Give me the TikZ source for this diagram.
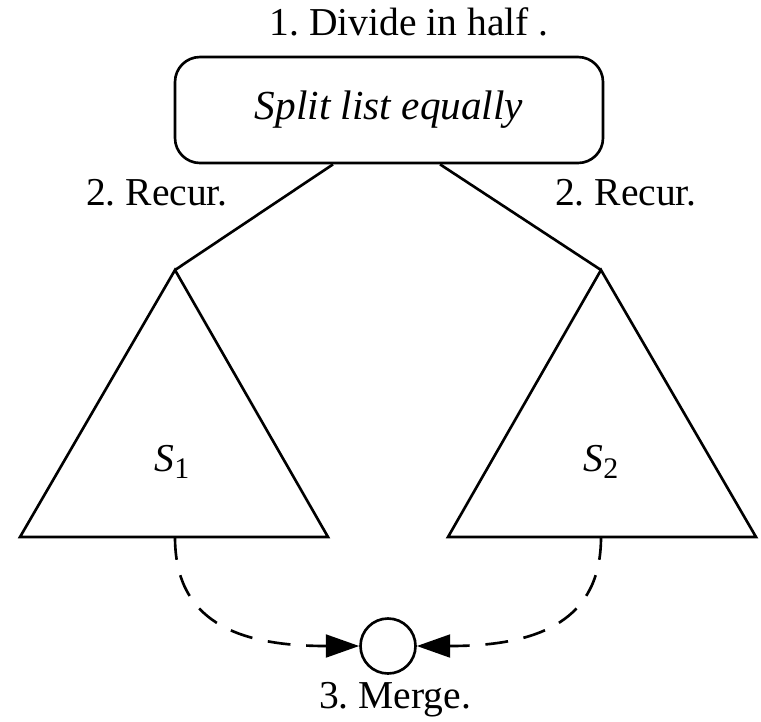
\documentclass[tikz,border=0pt]{standalone}
\usepackage{fontspec}
\setmainfont{Liberation Serif}
\usetikzlibrary{arrows.meta,positioning}
\frenchspacing

\begin{document}
\begin{tikzpicture}[line width=1.5pt,
  font=\fontsize{22.5}{27}\selectfont,
  mergeflow/.style={dash pattern=on 13pt off 9pt, -{Triangle[length=19pt,width=13pt]}}]

\useasboundingbox (0,0) rectangle (15.22,-14.42);

% split step
\node[draw, rounded corners=0.5cm, minimum width=8.56cm, minimum height=2.12cm] (split) at (7.78,-2.2) {\fontsize{23.5}{28}\selectfont\textit{Split list equally}};
\node (divide) at (8.18,-0.44) {1. Divide in half .};

% subproblems
\coordinate (top1) at (3.5,-5.4);
\coordinate (top2) at (12.02,-5.4);
\coordinate (bot1) at (3.5,-10.74);
\coordinate (bot2) at (12.02,-10.74);
\draw (top1) -- (0.4,-10.74) -- (6.56,-10.74) -- cycle;
\draw (top2) -- (8.96,-10.74) -- (15.12,-10.74) -- cycle;
\node (s1) at (3.44,-9.24) {\textit{S}\raisebox{-0.35ex}{\fontsize{17}{20}\selectfont 1}};
\node (s2) at (12.02,-9.24) {\textit{S}\raisebox{-0.35ex}{\fontsize{17}{20}\selectfont 2}};

% recursion
\draw ([xshift=-1.12cm]split.south) -- (top1);
\draw ([xshift=1.02cm]split.south) -- (top2);
\node (recur1) at (3.14,-3.86) {2. Recur.};
\node (recur2) at (12.52,-3.86) {2. Recur.};

% merge
\node[draw, circle, minimum size=1.1cm, inner sep=0pt] (merge) at (7.76,-12.92) {};
\node (mergetext) at (7.9,-14.0) {3. Merge.};
\draw[mergeflow] (bot1) .. controls (3.5,-12.4) and (4.7,-12.92) .. (merge.west);
\draw[mergeflow] (bot2) .. controls (12.02,-12.4) and (10.8,-12.92) .. (merge.east);

\end{tikzpicture}
\end{document}
